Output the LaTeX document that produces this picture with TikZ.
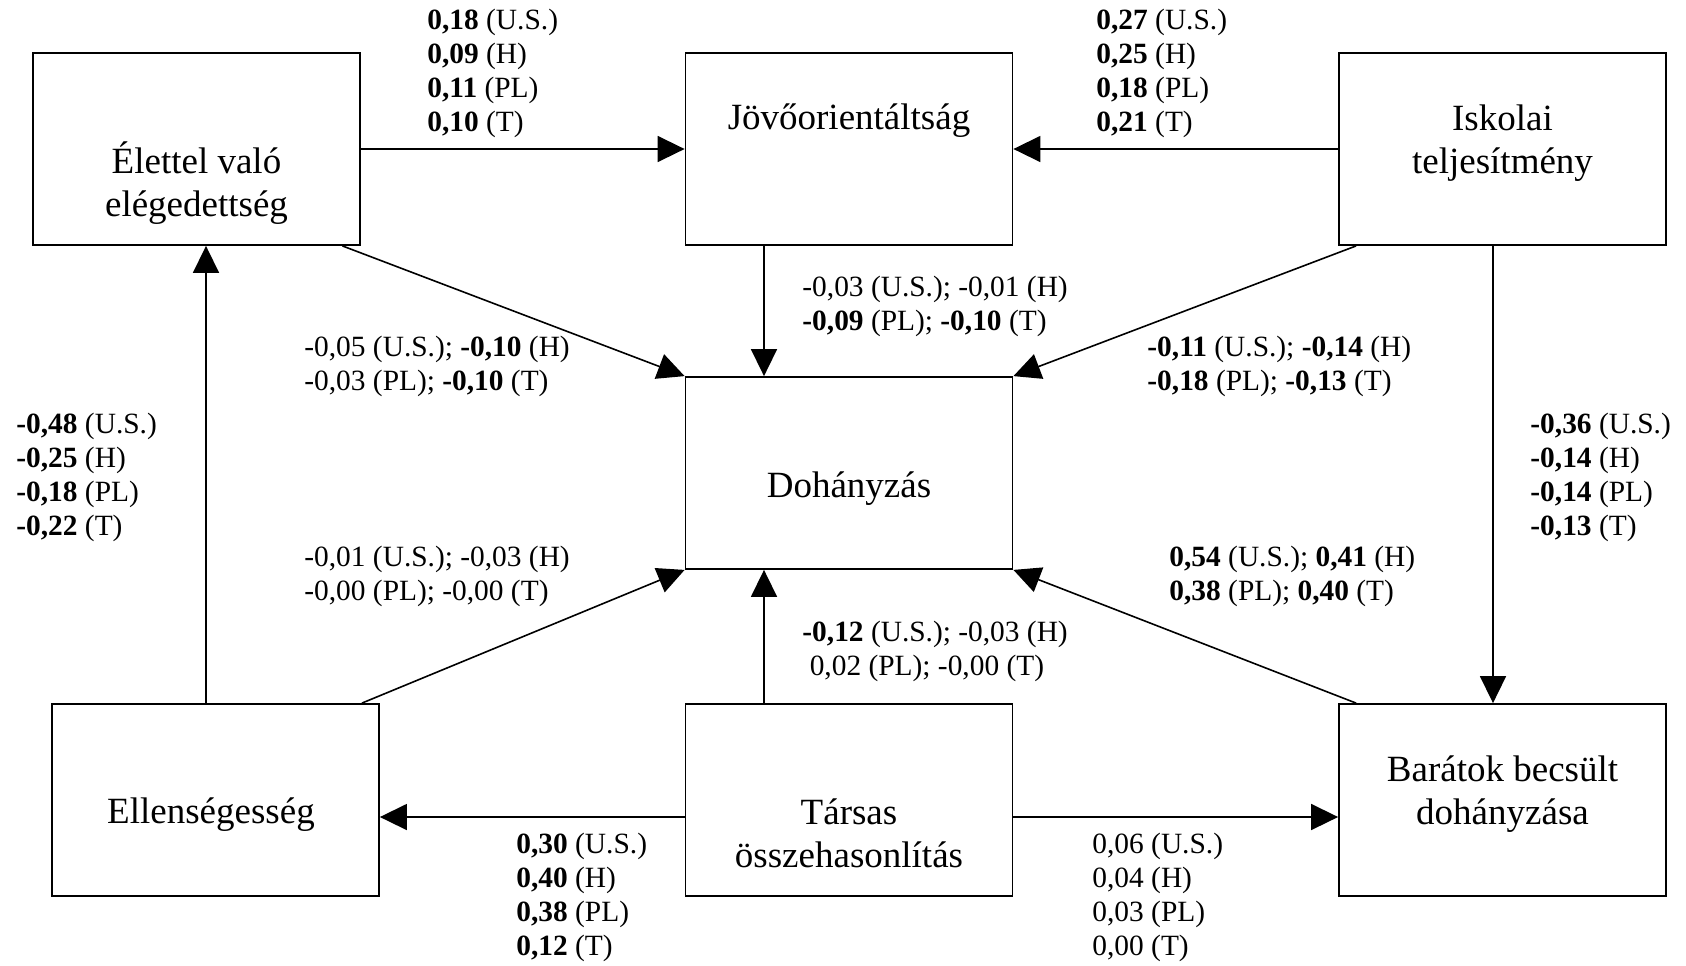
\documentclass[tikz,border=0pt]{standalone}
\usepackage{fontspec}
\setmainfont{Liberation Serif}
\usetikzlibrary{arrows.meta,calc}
\tikzset{
  box/.style={draw,line width=0.9pt,minimum width=163.5pt,minimum height=96pt,inner sep=0pt},
  boxtxt/.style={align=center,inner sep=0pt,font=\fontsize{18.5}{21.5}\selectfont},
  lbl/.style={align=left,anchor=west,inner sep=0pt,font=\fontsize{14.7}{17}\selectfont},
  arr/.style={-{Triangle[length=13.5pt,width=13pt]},line width=0.8pt},
}

\begin{document}
\begin{tikzpicture}[x=0.5pt,y=-0.5pt]
\useasboundingbox (0,0) rectangle (1686,965);
% boxes
\foreach \n/\x/\y in {elet/196.5/149,jovo/849/149,isk/1502.5/149,doh/849/473,ell/215.5/800,tars/849/800,bar/1502.5/800}
  \node[box] (\n) at (\x,\y) {};
\node[boxtxt] (eletT) at (196.5,183) {Élettel való\\elégedettség};
\node[boxtxt] (jovoT) at (849,121) {Jövőorientáltság};
\node[boxtxt] (iskT) at (1502.5,143) {Iskolai\\teljesítmény};
\node[boxtxt] (dohT) at (849,489) {Dohányzás};
\node[boxtxt] (ellT) at (211,815) {Ellenségesség};
\node[boxtxt] (tarsT) at (849,833) {Társas\\összehasonlítás};
\node[boxtxt] (barT) at (1502.5,794) {Barátok becsült\\dohányzása};
% paths
\draw[arr] (elet.east) -- (jovo.west);
\draw[arr] (isk.west) -- (jovo.east);
\draw[arr] ([xshift=-42.5pt]jovo.south) -- ([xshift=-42.5pt]doh.north);
\draw[arr] ([xshift=-9.25pt]elet.south east) -- (doh.north west);
\draw[arr] ([xshift=9pt]isk.south west) -- (doh.north east);
\draw[arr] ([xshift=-4.75pt]isk.south) -- ([xshift=-4.75pt]bar.north);
\draw[arr] ([xshift=-4.75pt]ell.north) coordinate (e1) -- (e1 |- elet.south);
\draw[arr] ([xshift=-9pt]ell.north east) -- (doh.south west);
\draw[arr] ([xshift=-42.5pt]tars.north) -- ([xshift=-42.5pt]doh.south);
\draw[arr] ([xshift=9pt]bar.north west) -- (doh.south east);
\draw[arr] ([yshift=-8.5pt]tars.west) -- ([yshift=-8.5pt]ell.east);
\draw[arr] ([yshift=-8.5pt]tars.east) -- ([yshift=-8.5pt]bar.west);
% coefficients
\node[lbl] (cEJ) at (427,73) {\textbf{0,18} (U.S.)\\\textbf{0,09} (H)\\\textbf{0,11} (PL)\\\textbf{0,10} (T)};
\node[lbl] (cIJ) at (1096,73) {\textbf{0,27} (U.S.)\\\textbf{0,25} (H)\\\textbf{0,18} (PL)\\\textbf{0,21} (T)};
\node[lbl] (cJD) at (802,306.5) {-0,03 (U.S.); -0,01 (H)\\\textbf{-0,09} (PL); \textbf{-0,10} (T)};
\node[lbl] (cED) at (304,366) {-0,05 (U.S.); \textbf{-0,10} (H)\\-0,03 (PL); \textbf{-0,10} (T)};
\node[lbl] (cID) at (1147,366) {\textbf{-0,11} (U.S.); \textbf{-0,14} (H)\\\textbf{-0,18} (PL); \textbf{-0,13} (T)};
\node[lbl] (cLE) at (16,477) {\textbf{-0,48} (U.S.)\\\textbf{-0,25} (H)\\\textbf{-0,18} (PL)\\\textbf{-0,22} (T)};
\node[lbl] (cIB) at (1530,477) {\textbf{-0,36} (U.S.)\\\textbf{-0,14} (H)\\\textbf{-0,14} (PL)\\\textbf{-0,13} (T)};
\node[lbl] (cLD) at (304,576) {-0,01 (U.S.); -0,03 (H)\\-0,00 (PL); -0,00 (T)};
\node[lbl] (cBD) at (1169,576) {\textbf{0,54} (U.S.); \textbf{0,41} (H)\\\textbf{0,38} (PL); \textbf{0,40} (T)};
\node[lbl] (cTD) at (802,651) {\textbf{-0,12} (U.S.); -0,03 (H)\\\hspace*{0.25em}0,02 (PL); -0,00 (T)};
\node[lbl] (cTL) at (516,897) {\textbf{0,30} (U.S.)\\\textbf{0,40} (H)\\\textbf{0,38} (PL)\\\textbf{0,12} (T)};
\node[lbl] (cTB) at (1092,897) {0,06 (U.S.)\\0,04 (H)\\0,03 (PL)\\0,00 (T)};
\end{tikzpicture}
\end{document}
